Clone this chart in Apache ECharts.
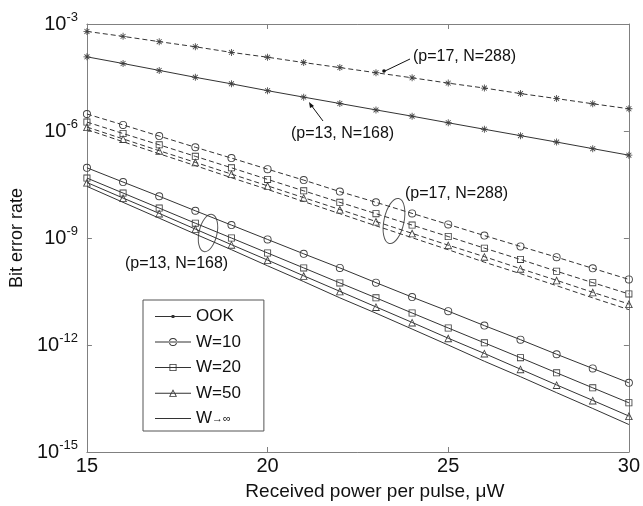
<!DOCTYPE html>
<html>
<head>
<meta charset="utf-8">
<script src="https://cdn.jsdelivr.net/npm/echarts@6/dist/echarts.min.js"></script>
<style>
  html, body { margin: 0; padding: 0; background: #fff; }
  #chart { width: 643px; height: 506px; }
</style>
</head>
<body>
<div id="chart"></div>
<script>
// received power per pulse (uW)
var power = [15, 16, 17, 18, 19, 20, 21, 22, 23, 24, 25, 26, 27, 28, 29, 30];

// p=17, N=288 (dashed)
var ook17 = [6.2e-4, 4.5e-4, 3.2e-4, 2.3e-4, 1.6e-4, 1.17e-4, 8.3e-5, 6.0e-5, 4.3e-5, 3.1e-5, 2.2e-5, 1.6e-5, 1.12e-5, 8.1e-6, 5.8e-6, 4.2e-6];
var w10_17 = [3.0e-6, 1.48e-6, 7.2e-7, 3.5e-7, 1.74e-7, 8.5e-8, 4.2e-8, 2.0e-8, 1.0e-8, 4.9e-9, 2.4e-9, 1.17e-9, 5.8e-10, 2.9e-10, 1.41e-10, 6.9e-11];
var w20_17 = [1.78e-6, 8.5e-7, 4.1e-7, 1.95e-7, 9.3e-8, 4.4e-8, 2.1e-8, 1.0e-8, 4.8e-9, 2.3e-9, 1.1e-9, 5.2e-10, 2.5e-10, 1.17e-10, 5.6e-11, 2.7e-11];
var w50_17 = [1.29e-6, 6.0e-7, 2.8e-7, 1.32e-7, 6.2e-8, 2.9e-8, 1.35e-8, 6.3e-9, 2.9e-9, 1.35e-9, 6.3e-10, 3.0e-10, 1.38e-10, 6.5e-11, 3.0e-11, 1.41e-11];
var winf_17 = [1.1e-6, 5.0e-7, 2.3e-7, 1.07e-7, 4.9e-8, 2.3e-8, 1.05e-8, 4.8e-9, 2.2e-9, 1.02e-9, 4.7e-10, 2.1e-10, 1.0e-10, 4.6e-11, 2.1e-11, 9.8e-12];

// p=13, N=168 (solid)
var ook13 = [1.2e-4, 7.8e-5, 5.0e-5, 3.2e-5, 2.1e-5, 1.35e-5, 8.9e-6, 5.9e-6, 3.9e-6, 2.6e-6, 1.7e-6, 1.12e-6, 7.4e-7, 4.9e-7, 3.2e-7, 2.1e-7];
var w10_13 = [9.3e-8, 3.7e-8, 1.48e-8, 5.8e-9, 2.3e-9, 9.1e-10, 3.6e-10, 1.45e-10, 5.6e-11, 2.2e-11, 8.9e-12, 3.5e-12, 1.41e-12, 5.5e-13, 2.2e-13, 8.7e-14];
var w20_13 = [4.8e-8, 1.82e-8, 6.9e-9, 2.6e-9, 1.0e-9, 3.8e-10, 1.45e-10, 5.5e-11, 2.1e-11, 7.9e-12, 3.0e-12, 1.15e-12, 4.4e-13, 1.66e-13, 6.3e-14, 2.4e-14];
var w50_13 = [3.6e-8, 1.32e-8, 4.9e-9, 1.78e-9, 6.5e-10, 2.4e-10, 8.7e-11, 3.2e-11, 1.17e-11, 4.3e-12, 1.55e-12, 5.8e-13, 2.1e-13, 7.6e-14, 2.8e-14, 1.02e-14];
var winf_13 = [2.8e-8, 1.0e-8, 3.6e-9, 1.29e-9, 4.7e-10, 1.66e-10, 6.0e-11, 2.1e-11, 7.8e-12, 2.8e-12, 1.0e-12, 3.5e-13, 1.29e-13, 4.6e-14, 1.66e-14, 5.9e-15];

var xTicks = [15, 20, 25, 30];
var yExponents = [-3, -6, -9, -12, -15];

var legendNames = ['OOK', 'W=10', 'W=20', 'W=50', 'W\u2192\u221e'];

var ink = '#333';
var markInk = '#404040';
var font = 'Liberation Sans, Arial, sans-serif';

// thin open markers (rings), MATLAB style
var starShape = 'M-0.6,-5L0.6,-5L0.6,5L-0.6,5Z M-5,-0.6L5,-0.6L5,0.6L-5,0.6Z M-3.9,-3.1L-3.1,-3.9L3.9,3.1L3.1,3.9Z M3.1,-3.9L3.9,-3.1L-3.1,3.9L-3.9,3.1Z';
var ringShape = 'M-4,0A4,4 0 1,0 4,0A4,4 0 1,0 -4,0Z M-3.1,0A3.1,3.1 0 1,1 3.1,0A3.1,3.1 0 1,1 -3.1,0Z';
var squareShape = 'M-3.5,-3.5H3.5V3.5H-3.5Z M-2.65,-2.65V2.65H2.65V-2.65Z';
var triShape = 'M0,-4L4,3.5L-4,3.5Z M0,-2.2L-2.65,2.7L2.65,2.7Z';

var marks = {
  'OOK': { symbol: 'path://' + starShape, size: 7 },
  'W=10': { symbol: 'path://' + ringShape, size: 8 },
  'W=20': { symbol: 'path://' + squareShape, size: 7 },
  'W=50': { symbol: 'path://' + triShape, size: 8 },
  'W\u2192\u221e': { symbol: 'none', size: 0 }
};

// legend icons: short line with the marker drawn on it (36 x 10 box)
var legLine = 'M0,4.6H36V5.4H0Z';
var legendIcons = {
  'OOK': 'path://' + legLine + ' M16.6,3.6H19.4V6.4H16.6Z',
  'W=10': 'path://' + legLine + ' M14,5A4,4 0 1,0 22,5A4,4 0 1,0 14,5Z M14.9,5A3.1,3.1 0 1,1 21.1,5A3.1,3.1 0 1,1 14.9,5Z',
  'W=20': 'path://' + legLine + ' M14.5,1.5H21.5V8.5H14.5Z M15.3,2.3V7.7H20.7V2.3Z',
  'W=50': 'path://' + legLine + ' M18,1L22,8.5L14,8.5Z M18,2.8L15.4,7.8L20.6,7.8Z',
  'W\u2192\u221e': 'path://M0,0.1H36V0.9H0Z'
};

function pairs(values) {
  return power.map(function (x, i) { return [x, values[i]]; });
}

function line(name, values, dashed) {
  var m = marks[name];
  return {
    name: name,
    type: 'line',
    xAxisIndex: 0,
    yAxisIndex: 0,
    symbol: m.symbol,
    symbolSize: m.size,
    showSymbol: m.symbol !== 'none',
    lineStyle: { color: ink, width: 1, type: dashed ? [5, 3] : 'solid' },
    itemStyle: { color: markInk, borderWidth: 0 },
    emphasis: { disabled: true },
    data: pairs(values)
  };
}

var chart = echarts.init(document.getElementById('chart'));

var axisCommon = {
  axisLine: { show: true, lineStyle: { color: '#808080', width: 1 } },
  axisTick: { show: true, inside: true, length: 5, lineStyle: { color: '#808080' } },
  splitLine: { show: false }
};

chart.setOption({
  animation: false,
  backgroundColor: '#fff',
  grid: { left: 80, right: 13, top: 24, bottom: 49 },
  legend: {
    orient: 'vertical',
    left: 143,
    top: 300,
    data: legendNames.map(function (n) { return { name: n, icon: legendIcons[n] }; }),
    itemWidth: 36,
    itemHeight: 10,
    itemGap: 8.5,
    padding: [8, 23, 4, 12],
    borderColor: '#555',
    borderWidth: 1,
    backgroundColor: '#fff',
    selectedMode: false,
    itemStyle: { color: ink, borderWidth: 0 },
    textStyle: {
      fontSize: 17,
      color: '#111',
      fontFamily: font,
      rich: {
        a: { fontSize: 17, color: '#111', fontFamily: font },
        b: { fontSize: 11, color: '#111', fontFamily: font }
      }
    },
    formatter: function (name) {
      return name === 'W\u2192\u221e' ? '{a|W}{b|\u2192\u221e}' : name;
    }
  },
  xAxis: [Object.assign({
    type: 'value',
    min: 15,
    max: 30,
    interval: 5,
    position: 'bottom',
    name: 'Received power per pulse, \u03bcW',
    nameLocation: 'middle',
    nameGap: 30,
    nameTextStyle: { fontSize: 19, color: '#111', fontFamily: font, padding: [0, 0, 0, 34] },
    axisLabel: {
      fontSize: 20, color: '#111', fontFamily: font, margin: 4,
      formatter: function (v) { return xTicks.indexOf(v) >= 0 ? String(v) : ''; }
    }
  }, axisCommon), Object.assign({
    type: 'value',
    min: 15,
    max: 30,
    interval: 5,
    position: 'top',
    axisLabel: { show: false }
  }, axisCommon)],
  yAxis: [Object.assign({
    type: 'log',
    logBase: 10,
    min: 1e-15,
    max: 1e-3,
    interval: 3,
    position: 'left',
    name: 'Bit error rate',
    nameLocation: 'middle',
    nameRotate: 90,
    nameGap: 50,
    nameTextStyle: { fontSize: 18, color: '#111', fontFamily: font },
    axisLabel: {
      margin: 9,
      fontFamily: font,
      color: '#111',
      formatter: function (v) {
        var e = Math.round(Math.log10(v));
        return yExponents.indexOf(e) >= 0 ? '{b|10}{s|' + e + '}' : '';
      },
      rich: {
        b: { fontSize: 20, color: '#111', fontFamily: font },
        s: { fontSize: 13, color: '#111', fontFamily: font, padding: [0, 0, 13, 0] }
      }
    }
  }, axisCommon), Object.assign({
    type: 'log',
    logBase: 10,
    min: 1e-15,
    max: 1e-3,
    interval: 3,
    position: 'right',
    axisLabel: { show: false }
  }, axisCommon)],
  series: [
    line('OOK', ook13, false),
    line('W=10', w10_13, false),
    line('W=20', w20_13, false),
    line('W=50', w50_13, false),
    line('W\u2192\u221e', winf_13, false),
    line('OOK', ook17, true),
    line('W=10', w10_17, true),
    line('W=20', w20_17, true),
    line('W=50', w50_17, true),
    line('W\u2192\u221e', winf_17, true)
  ],
  graphic: [
    { type: 'text', left: 413, top: 49, style: { text: '(p=17, N=288)', fontSize: 16, fill: '#111', fontFamily: font } },
    { type: 'line', shape: { x1: 410, y1: 59, x2: 385, y2: 71 }, style: { stroke: '#111', lineWidth: 1 } },
    { type: 'circle', shape: { cx: 384, cy: 71, r: 1.8 }, style: { fill: '#111' } },
    { type: 'text', left: 291, top: 126, style: { text: '(p=13, N=168)', fontSize: 16, fill: '#111', fontFamily: font } },
    { type: 'line', shape: { x1: 323, y1: 121, x2: 311, y2: 105 }, style: { stroke: '#111', lineWidth: 1 } },
    { type: 'polygon', shape: { points: [[309, 102], [314, 106], [310, 108]] }, style: { fill: '#111' } },
    { type: 'text', left: 405, top: 186, style: { text: '(p=17, N=288)', fontSize: 16, fill: '#111', fontFamily: font } },
    { type: 'ellipse', x: 394, y: 221, rotation: -0.21, shape: { cx: 0, cy: 0, rx: 10, ry: 23 }, style: { fill: 'none', stroke: '#555', lineWidth: 1 } },
    { type: 'text', left: 125, top: 256, style: { text: '(p=13, N=168)', fontSize: 16, fill: '#111', fontFamily: font } },
    { type: 'ellipse', x: 208, y: 233, rotation: -0.22, shape: { cx: 0, cy: 0, rx: 9, ry: 19 }, style: { fill: 'none', stroke: '#555', lineWidth: 1 } }
  ]
});
</script>
</body>
</html>
